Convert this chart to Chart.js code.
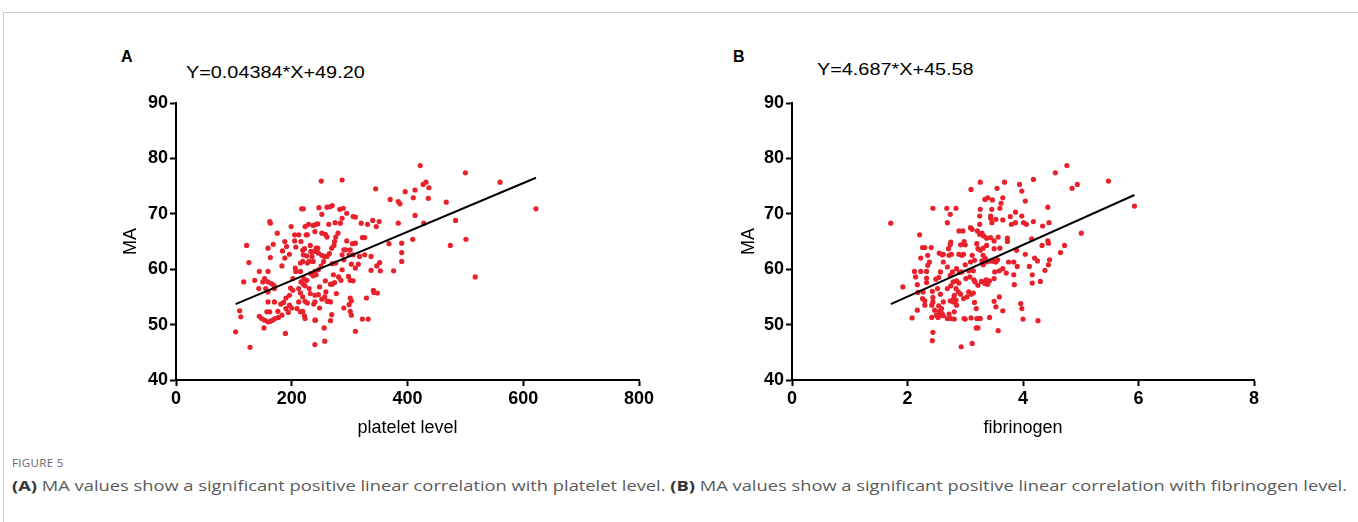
<!DOCTYPE html>
<html>
<head>
<meta charset="utf-8">
<script src="https://cdn.jsdelivr.net/npm/chart.js@4.4.1/dist/chart.umd.min.js"></script>
<style>
  body { margin: 0; width: 1358px; height: 522px; background: #fff; position: relative; overflow: hidden; font-family: 'Liberation Sans', Arial, sans-serif; }
  .frame { position: absolute; left: 3px; top: 12px; width: 1400px; height: 600px; border-left: 1px solid #c8c8c8; border-top: 1px solid #c8c8c8; }
  .panel { position: absolute; width: 560px; height: 360px; }
  .tag { position: absolute; font-weight: bold; font-size: 16px; line-height: 16px; color: #000; }
  .eq { position: absolute; font-size: 16px; line-height: 16px; color: #000; transform: scaleX(1.24); transform-origin: left top; white-space: nowrap; }
  .figno { position: absolute; left: 12px; top: 455px; font-family: 'Open Sans', sans-serif; font-size: 11px; color: #666; letter-spacing: 0.3px; transform: scaleX(1.05); transform-origin: left top; }
  .caption { position: absolute; left: 12px; top: 475px; font-family: 'Open Sans', sans-serif; font-size: 15px; color: #5a5a5a; white-space: nowrap; transform: scaleX(1.22); transform-origin: left top; }
  .caption b { color: #333; }
</style>
</head>
<body>
<div class="frame"></div>

<div class="tag" style="left:121px; top:49px;">A</div>
<div class="eq" style="left:186px; top:65px;">Y=0.04384*X+49.20</div>
<div class="panel" style="left:100px; top:90px;"><canvas id="chartA"></canvas></div>

<div class="tag" style="left:733px; top:49px;">B</div>
<div class="eq" style="left:817px; top:62px;">Y=4.687*X+45.58</div>
<div class="panel" style="left:720px; top:90px;"><canvas id="chartB"></canvas></div>

<div class="figno">FIGURE 5</div>
<div class="caption"><b>(A)</b> MA values show a significant positive linear correlation with platelet level. <b>(B)</b> MA values show a significant positive linear correlation with fibrinogen level.</div>

<script>
// panel A: platelet level vs MA
const plateletX = [622, 560, 500, 422, 517, 501, 474, 483, 467, 437, 432, 427, 436, 428, 413, 410, 413, 396, 409, 384,
  387, 384, 390, 390, 390, 376, 368, 370, 345, 351, 346, 340, 352, 347, 353, 337, 342, 348, 341, 337,
  329, 332, 322, 310, 331, 320, 322, 326, 326, 317, 315, 306, 310, 295, 305, 306, 303, 310, 301, 306,
  301, 303, 299, 301, 303, 290, 298, 295, 293, 290, 287, 290, 287, 285, 281, 289, 283, 287, 287, 284,
  275, 280, 276, 274, 264, 270, 267, 261, 247, 251, 252, 269, 265, 270, 276, 272, 274, 267, 270, 258,
  277, 264, 267, 261, 269, 267, 256, 257, 240, 241, 240, 248, 252, 257, 259, 246, 238, 240, 248, 240,
  232, 230, 242, 237, 233, 240, 246, 251, 255, 261, 257, 252, 246, 240, 242, 245, 233, 235, 237, 230,
  226, 232, 240, 242, 229, 227, 220, 217, 222, 219, 227, 219, 215, 215, 221, 226, 216, 220, 223, 212,
  215, 219, 223, 227, 212, 209, 219, 222, 223, 215, 206, 207, 202, 198, 202, 196, 196, 200, 190, 194,
  189, 190, 186, 181, 176, 183, 177, 171, 167, 159, 163, 157, 162, 153, 148, 152, 144, 159, 170, 159,
  155, 170, 169, 165, 159, 150, 153, 159, 144, 143, 136, 117, 126, 122, 110, 112, 103, 128, 163, 159,
  168, 163, 162, 175, 184, 188, 183, 191, 196, 188, 199, 205, 205, 207, 216, 220, 223, 225, 237, 245,
  258, 261, 252, 212, 273, 299, 301, 310];
const plateletMA = [70.9, 75.7, 77.4, 78.7, 58.6, 65.4, 64.3, 68.8, 72.1, 74.7, 75.7, 75.3, 72.8, 68.3, 69.7, 72.9, 74.3, 74.0, 65.4, 72.2,
  71.8, 68.3, 64.7, 63.0, 61.4, 59.7, 64.6, 72.6, 74.5, 68.6, 67.7, 68.8, 61.2, 60.6, 59.7, 59.8, 55.8, 55.7, 56.2, 62.3,
  54.8, 51.0, 51.0, 48.8, 68.1, 68.3, 65.7, 65.7, 62.6, 62.3, 60.9, 69.5, 69.4, 70.1, 64.6, 62.6, 60.9, 60.2, 58.0, 57.9,
  54.8, 54.3, 53.6, 52.4, 51.7, 53.0, 58.7, 65.1, 63.5, 63.5, 62.6, 61.7, 59.9, 58.0, 58.6, 71.0, 70.8, 76.1, 69.2, 68.3,
  68.4, 66.5, 65.8, 65.0, 68.1, 71.5, 71.3, 71.2, 71.1, 75.9, 69.9, 63.8, 62.8, 61.0, 61.1, 59.0, 57.6, 57.3, 57.3, 57.9,
  55.6, 54.2, 54.1, 54.2, 51.8, 50.7, 49.4, 47.0, 46.4, 50.8, 50.8, 53.0, 54.6, 55.0, 55.9, 55.4, 53.7, 54.1, 56.8, 55.3,
  55.6, 56.5, 59.0, 58.8, 59.2, 59.6, 59.9, 60.6, 61.4, 62.3, 62.3, 62.5, 62.9, 63.2, 63.8, 63.8, 63.2, 62.3, 61.4, 61.4,
  62.4, 64.3, 66.8, 68.1, 68.1, 66.2, 70.9, 70.9, 63.7, 63.4, 61.1, 61.4, 61.1, 59.6, 58.3, 58.0, 57.7, 57.3, 57.0, 56.5,
  55.7, 55.0, 54.2, 53.9, 54.1, 52.9, 52.4, 51.6, 51.1, 52.3, 60.2, 59.6, 58.3, 56.6, 56.2, 55.3, 53.5, 53.0, 52.9, 52.2,
  48.4, 54.8, 54.0, 53.7, 52.4, 51.7, 51.3, 51.1, 50.8, 50.5, 50.6, 52.3, 52.3, 50.8, 51.1, 49.4, 51.5, 54.1, 54.1, 55.9,
  56.5, 56.5, 57.1, 57.4, 57.7, 57.7, 58.3, 59.6, 59.6, 56.5, 58.0, 57.7, 61.2, 64.3, 52.5, 51.4, 48.7, 45.9, 62.1, 63.8,
  64.5, 68.3, 68.6, 66.5, 63.3, 62.0, 60.6, 64.1, 62.7, 65.0, 67.7, 66.2, 65.1, 64.0, 65.0, 62.6, 67.7, 66.2, 67.9, 68.2,
  66.3, 65.8, 66.5, 66.2, 64.3, 62.6, 63.5, 64.7];
const plateletFitX = [103, 622];
const plateletFitY = [53.7, 76.5];

// panel B: fibrinogen vs MA
const fibX = [1.71, 1.92, 5.93, 5.48, 4.76, 4.56, 4.94, 4.85, 5.01, 4.72, 4.65, 4.43, 4.45, 4.34, 4.18, 4.04, 3.98, 3.94, 3.98, 4.01,
  4.06, 4.18, 4.15, 4.43, 4.44, 4.33, 4.46, 4.44, 4.38, 4.30, 4.20, 4.25, 4.16, 4.16, 4.11, 4.04, 4.26, 4.00, 3.98, 3.96,
  3.90, 3.84, 3.89, 3.87, 3.87, 3.78, 3.80, 3.73, 3.73, 3.84, 3.85, 3.68, 3.65, 3.62, 3.60, 3.65, 3.55, 3.53, 3.47, 3.39,
  3.34, 3.46, 3.44, 3.46, 3.26, 3.26, 3.25, 3.25, 3.10, 3.12, 3.09, 3.21, 3.25, 3.29, 3.32, 3.44, 3.50, 3.57, 3.60, 3.50,
  3.37, 3.31, 3.20, 3.22, 3.26, 3.31, 3.35, 3.29, 3.31, 3.37, 3.44, 3.50, 3.56, 3.53, 3.51, 3.59, 3.65, 3.75, 3.71, 3.50,
  3.42, 3.36, 3.34, 3.39, 3.28, 3.22, 3.15, 3.17, 3.14, 3.16, 3.09, 3.00, 3.06, 3.01, 3.08, 3.14, 3.10, 3.06, 3.16, 3.19,
  3.20, 3.10, 3.19, 3.22, 3.25, 3.12, 2.93, 3.00, 2.98, 3.03, 2.97, 2.92, 2.88, 2.84, 2.80, 2.81, 2.79, 2.74, 2.85, 2.81,
  2.75, 2.81, 2.69, 2.72, 2.84, 2.89, 2.85, 2.79, 2.75, 2.69, 2.74, 2.78, 2.85, 2.90, 2.94, 2.69, 2.72, 2.76, 2.71, 2.75,
  2.74, 2.89, 2.94, 2.97, 2.92, 2.98, 3.00, 2.89, 2.96, 2.74, 2.69, 2.68, 2.84, 2.44, 2.21, 2.26, 2.30, 2.41, 2.23, 2.35,
  2.38, 2.35, 2.23, 2.12, 2.33, 2.14, 2.17, 2.33, 2.33, 2.27, 2.18, 2.26, 2.30, 2.17, 2.08, 2.30, 2.43, 2.44, 2.44, 2.42,
  2.47, 2.42, 2.50, 2.44, 2.43, 2.53, 2.56, 2.55, 2.60, 2.62, 2.59, 2.54, 2.62, 2.57, 2.52, 2.49, 2.54, 2.57, 2.62, 2.60,
  2.55, 2.62, 3.12, 3.37, 3.44, 3.59, 3.53, 3.57, 3.65, 3.42, 3.50, 3.26];
const fibMA = [68.3, 56.8, 71.4, 75.9, 78.7, 77.4, 75.3, 74.6, 66.5, 64.3, 63.0, 71.2, 68.4, 67.8, 76.2, 72.3, 74.1, 75.3, 69.6, 68.4,
  68.1, 68.6, 65.5, 65.1, 64.7, 64.3, 61.7, 60.8, 59.8, 57.8, 62.0, 61.5, 59.0, 57.5, 60.5, 62.7, 50.7, 51.0, 52.9, 53.8,
  60.5, 61.3, 63.4, 68.4, 70.3, 69.5, 68.1, 65.6, 65.0, 59.0, 57.2, 75.7, 72.9, 71.9, 71.0, 68.9, 74.6, 69.0, 72.5, 72.9,
  72.6, 70.8, 69.6, 68.4, 75.7, 70.8, 69.6, 68.1, 74.4, 67.2, 67.5, 66.9, 66.3, 66.5, 66.0, 65.7, 65.1, 65.8, 63.8, 63.7,
  64.3, 63.8, 64.6, 63.7, 63.4, 62.5, 61.9, 61.5, 60.8, 61.3, 61.5, 61.4, 61.7, 61.3, 59.5, 59.7, 60.1, 61.3, 59.3, 58.3,
  57.9, 58.1, 57.4, 57.3, 57.8, 57.1, 58.1, 57.7, 59.7, 61.6, 61.3, 60.8, 59.7, 58.3, 58.6, 55.7, 55.5, 55.9, 54.0, 52.9,
  51.1, 51.2, 49.4, 49.4, 51.1, 46.6, 46.0, 51.0, 51.1, 55.0, 54.7, 55.5, 55.9, 54.4, 54.7, 55.3, 54.1, 54.3, 53.5, 52.3,
  51.1, 51.0, 51.1, 51.9, 56.5, 57.5, 57.9, 57.7, 57.0, 56.5, 58.9, 59.5, 60.1, 59.4, 59.5, 60.4, 62.5, 62.7, 63.7, 64.9,
  64.4, 62.7, 62.5, 62.7, 64.4, 65.0, 64.4, 66.9, 66.9, 69.9, 68.4, 71.0, 71.0, 71.0, 66.2, 63.9, 63.9, 63.9, 62.0, 62.5,
  61.3, 60.7, 59.6, 59.6, 59.6, 58.6, 57.2, 58.4, 57.6, 55.9, 55.8, 54.7, 54.3, 52.6, 51.2, 53.5, 56.0, 54.9, 54.1, 53.5,
  52.6, 51.3, 51.7, 48.6, 47.1, 51.3, 51.7, 52.4, 52.0, 51.6, 52.9, 53.4, 54.1, 55.5, 56.5, 58.2, 58.5, 59.5, 61.3, 62.6,
  62.9, 62.7, 62.5, 65.6, 69.2, 55.0, 53.2, 48.9, 52.5, 51.3, 54.2, 51.1];
const fibFitX = [1.71, 5.93];
const fibFitY = [53.7, 73.4];

const xTicksA = [0, 200, 400, 600, 800];
const xTicksB = [0, 2, 4, 6, 8];
const yTicks = [40, 50, 60, 70, 80, 90];

Chart.defaults.font.family = "'Liberation Sans', Arial, Helvetica, sans-serif";
Chart.defaults.color = '#000';

function toPoints(xs, ys) {
  return xs.map((x, i) => ({ x: x, y: ys[i] }));
}

function makeChart(id, xs, ys, fitX, fitY, xTicks, xLabel, yAxisWidth, rightPad, yTitlePad) {
  const ctx = document.getElementById(id).getContext('2d');
  return new Chart(ctx, {
    type: 'scatter',
    data: {
      datasets: [
        {
          data: toPoints(xs, ys),
          pointRadius: 2.6,
          pointBackgroundColor: '#e8212b',
          pointBorderWidth: 0,
          order: 2
        },
        {
          type: 'line',
          data: toPoints(fitX, fitY),
          borderColor: '#000',
          borderWidth: 2,
          pointRadius: 0,
          fill: false,
          order: 1
        }
      ]
    },
    options: {
      responsive: true,
      maintainAspectRatio: false,
      animation: false,
      layout: { padding: { left: 0, right: rightPad, top: 13, bottom: 0 } },
      plugins: { legend: { display: false }, tooltip: { enabled: false } },
      scales: {
        x: {
          type: 'linear',
          min: xTicks[0],
          max: xTicks[xTicks.length - 1],
          afterBuildTicks: s => { s.ticks = xTicks.map(v => ({ value: v })); },
          afterFit: s => { s.height = 70; },
          grid: { drawOnChartArea: false, drawTicks: true, tickLength: 6, tickWidth: 2, tickColor: '#000' },
          border: { display: true, color: '#000', width: 2 },
          ticks: { font: { size: 18, weight: 'bold' }, padding: 2, color: '#000', maxRotation: 0 },
          title: { display: true, text: xLabel, font: { size: 18 }, color: '#000', padding: { top: 0, bottom: 11 } }
        },
        y: {
          type: 'linear',
          min: yTicks[0],
          max: yTicks[yTicks.length - 1],
          afterBuildTicks: s => { s.ticks = yTicks.map(v => ({ value: v })); },
          afterFit: s => { s.width = yAxisWidth; },
          grid: { drawOnChartArea: false, drawTicks: true, tickLength: 6, tickWidth: 2, tickColor: '#000' },
          border: { display: true, color: '#000', width: 2 },
          ticks: { font: { size: 18, weight: 'bold' }, padding: 2, color: '#000' },
          title: { display: true, text: 'MA', font: { size: 18 }, color: '#000', padding: { top: yTitlePad, bottom: 0 } }
        }
      }
    }
  });
}

makeChart('chartA', plateletX, plateletMA, plateletFitX, plateletFitY, xTicksA, 'platelet level', 76, 21, 20);
makeChart('chartB', fibX, fibMA, fibFitX, fibFitY, xTicksB, 'fibrinogen', 72, 26, 18);
</script>
</body>
</html>
